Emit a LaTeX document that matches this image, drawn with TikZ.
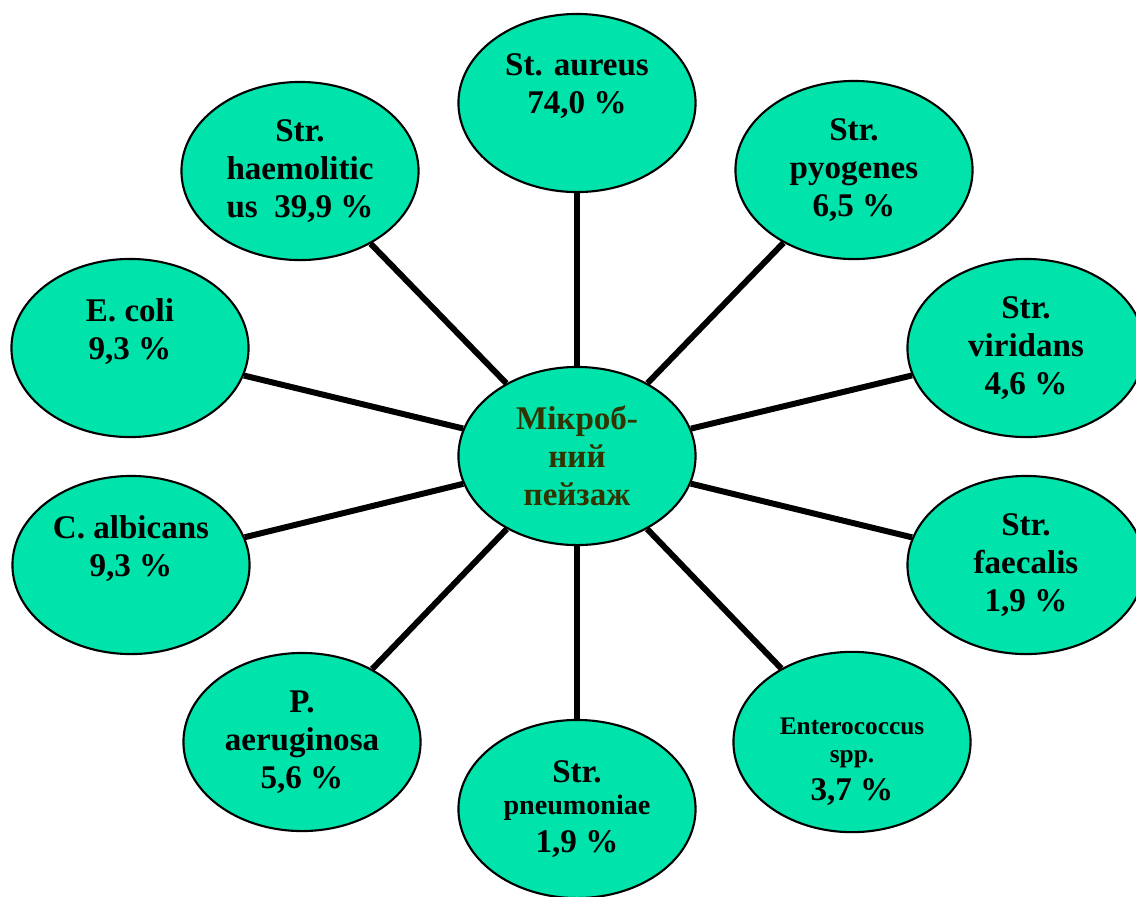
\documentclass[tikz,border=0pt]{standalone}
\usepackage{fontspec}
\setmainfont{Liberation Serif}
\usetikzlibrary{shapes.geometric}

\definecolor{bubble}{RGB}{0,227,170}
\definecolor{hubtext}{RGB}{51,51,0}
\newcommand\bigtxt{\fontsize{9.4}{10.8}\selectfont}
\newcommand\smalltxt{\fontsize{7.2}{8.3}\selectfont}

\tikzset{
  microbe/.style={ellipse, draw=black, line width=0.6pt, fill=bubble,
    minimum width=2.37cm, minimum height=1.78cm, inner sep=0pt,
    align=center, font=\bigtxt\bfseries},
  hub/.style={microbe, text=hubtext},
  spoke/.style={line width=1.7pt}
}

\begin{document}
\begin{tikzpicture}[x=0.01cm,y=-0.01cm]
\useasboundingbox (0,0) rectangle (1136,896);
\clip (0,0) rectangle (1136,896);

% spokes go under the bubbles
\node[hub] (hub) at (577,456) {Мікроб-\\ний\\пейзаж};

\node[microbe] (aureus)   at (577,103) {St. aureus\\74,0~\%\\\mbox{}};
\node[microbe] (pyogenes) at (854,170) {Str.\\pyogenes\\6,5~\%};
\node[microbe] (viridans) at (1026,348) {Str.\\viridans\\4,6~\%};
\node[microbe] (faecalis) at (1026,565) {Str.\\faecalis\\1,9~\%};
\node[microbe] (entero)   at (852,742) {\rule{0pt}{16pt}\smalltxt Enterococcus\\[-2.8pt]\smalltxt spp.\\\bigtxt 3,7~\%};
\node[microbe] (pneumo)   at (577,809) {Str.\\[-1.5pt]\fontsize{8}{9.2}\selectfont pneumoniae\\\bigtxt 1,9~\%};
\node[microbe] (aerug)    at (302,742) {P.\\aeruginosa\\5,6~\%};
\node[microbe] (albicans) at (131,565) {C. albicans\\9,3~\%\\\mbox{}};
\node[microbe] (coli)     at (130,348) {E. coli\\9,3~\%\\\mbox{}};
\node[microbe] (haemo)    at (300,171) {Str.\\haemolitic\\us~~39,9~\%};

\foreach \m in {aureus,pyogenes,viridans,faecalis,entero,pneumo,aerug,albicans,coli,haemo}
  \draw[spoke] (hub) -- (\m);
\end{tikzpicture}
\end{document}
